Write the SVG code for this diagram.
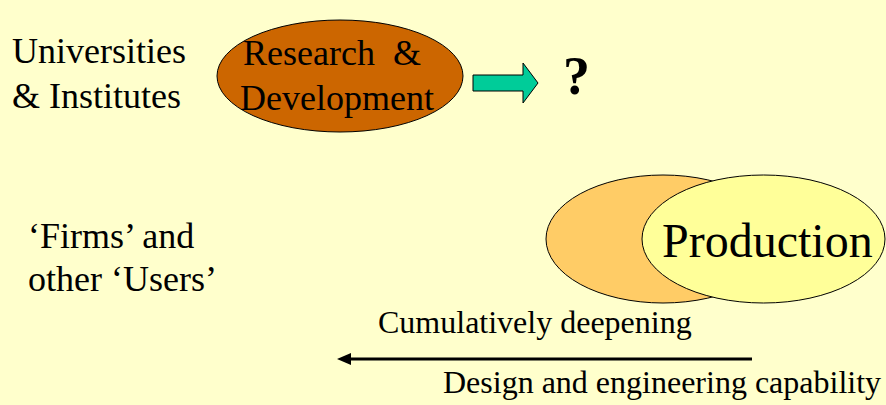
<svg xmlns="http://www.w3.org/2000/svg" width="886" height="405" viewBox="0 0 886 405">
<style>
text{font-family:"Times New Roman","Liberation Serif",Tinos,serif;fill:#000}
.t36{font-size:36px}
.t32{font-size:32px}
.node{stroke:#000;stroke-width:1}
</style>
<rect width="886" height="405" fill="#FFFFCC"/>
<g id="universities">
<text class="t36" x="12" y="63">Universities</text>
<text class="t36" x="12" y="108">&amp; Institutes</text>
</g>
<g id="rnd">
<ellipse class="node" cx="340" cy="76" rx="123" ry="56" fill="#CC6600"/>
<text class="t36" x="243" y="65" xml:space="preserve">Research  &amp;</text>
<text class="t36" x="240" y="110">Development</text>
</g>
<g id="question">
<text x="563" y="94" style="font-size:54px;font-weight:bold">?</text>
</g>
<g id="firms">
<text class="t36" x="28" y="248">‘Firms’ and</text>
<text class="t36" x="28" y="291">other ‘Users’</text>
</g>
<g id="production">
<ellipse class="node" cx="663" cy="239" rx="117" ry="64" fill="#FFCC66"/>
<ellipse class="node" cx="763.5" cy="239" rx="121.5" ry="64" fill="#FFFF99"/>
<text x="662" y="257" style="font-size:48px">Production</text>
</g>
<g id="labels">
<text class="t32" x="378" y="333">Cumulatively deepening</text>
<text class="t32" x="443" y="393">Design and engineering capability</text>
</g>
<g id="connectors">
<path d="M473,75 H523 V63 L538,83 L523,103 V91 H473 Z" fill="#00CC99" stroke="#000" stroke-width="1"/>
<line x1="752" y1="359" x2="350" y2="359" stroke="#000" stroke-width="3"/>
<path d="M337,359 L351,353 L351,365 Z" fill="#000"/>
</g>
</svg>
